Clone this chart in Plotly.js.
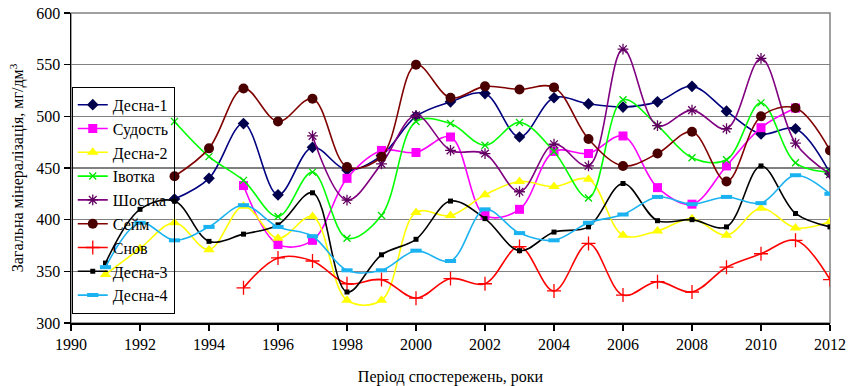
<!DOCTYPE html>
<html>
<head>
<meta charset="utf-8">
<script src="https://cdn.plot.ly/plotly-3.0.1.min.js"></script>
<style>html,body{margin:0;padding:0;background:#fff;}#chart{width:854px;height:386px;}</style>
</head>
<body>
<div id="chart"></div>
<script>
const years = [1991,1992,1993,1994,1995,1996,1997,1998,1999,2000,2001,2002,2003,2004,2005,2006,2007,2008,2009,2010,2011,2012];
const desna1  = [null,null,420,440,493,424,470,448,462,500,514,522,480,518,512,509,514,529,505,483,488,445];
const sudost  = [null,null,null,null,433,376,380,440,467,465,480,404,410,466,464,481,431,415,452,489,508,null];
const desna2  = [347,372,397,371,413,382,403,322,322,407,404,424,437,432,439,385,389,401,385,411,392,398];
const ivotka  = [null,null,495,461,438,403,446,382,404,495,493,472,494,466,421,516,491,460,458,513,455,446];
const shostka = [null,null,null,null,null,null,481,419,454,501,467,464,427,473,452,565,491,506,488,556,474,444];
const seim    = [null,null,442,469,527,495,517,451,461,550,518,529,526,528,478,452,464,485,437,500,508,467];
const snov    = [null,null,null,null,334,363,360,338,342,324,343,338,374,331,377,327,340,330,354,367,380,342];
const desna3  = [358,410,418,379,386,395,426,330,366,381,418,401,370,388,393,435,399,400,393,452,406,393];
const desna4  = [354,397,380,393,414,393,384,351,351,370,360,410,387,380,397,405,422,415,422,416,443,425];

const names = ['Десна-1','Судость','Десна-2','Івотка','Шостка','Сейм','Снов','Десна-3','Десна-4'];

function tr(name, y, lineColor, sym, mSize, mColor, mLineW){
  return {
    type:'scatter', mode:'lines+markers', name:name, x:years, y:y,
    line:{color:lineColor, width:1.6, shape:'spline', smoothing:1},
    marker:{symbol:sym, size:mSize, color:mColor, line:{color:mColor, width:mLineW}},
    connectgaps:false
  };
}
const data = [
  tr(names[0], desna1, '#000080', 'diamond', 9, '#00004d', 0),
  tr(names[1], sudost, '#ff00ff', 'square', 9, '#ff00ff', 0),
  tr(names[2], desna2, '#ffff00', 'triangle-up', 10, '#ffff00', 0),
  tr(names[3], ivotka, '#00ff00', 'x-thin-open', 7, '#00e000', 1.3),
  tr(names[4], shostka, '#800080', 'asterisk-open', 9, '#600060', 1.3),
  tr(names[5], seim, '#800000', 'circle', 10, '#4a0000', 0),
  tr(names[6], snov, '#ff0000', 'cross-thin-open', 10, '#ff0000', 1.3),
  tr(names[7], desna3, '#000000', 'square', 5, '#000000', 0),
  tr(names[8], desna4, '#1ab2f0', 'line-ew-open', 8, '#1ab2f0', 4)
];

const serif = "'Liberation Serif', 'Times New Roman', serif";
const layout = {
  width:854, height:386,
  margin:{l:71, r:24, t:13, b:63},
  paper_bgcolor:'#ffffff', plot_bgcolor:'#ffffff',
  font:{family:serif, size:16, color:'#000'},
  showlegend:true,
  legend:{x:0.001, y:0.762, xanchor:'left', yanchor:'top', bgcolor:'rgba(255,255,255,0)', bordercolor:'#000', borderwidth:1, font:{family:serif, size:16, color:'#000'}, tracegroupgap:0},
  xaxis:{range:[1990,2012], dtick:2, tick0:1990, showgrid:false, zeroline:false,
    showline:true, linecolor:'#000', linewidth:1.5, ticks:'outside', ticklen:6, tickcolor:'#000', tickwidth:1.5,
    tickfont:{family:serif, size:16, color:'#000'},
    title:{text:'Період спостережень, роки', font:{family:serif, size:16, color:'#000'}, standoff:21}},
  yaxis:{range:[300,600], dtick:50, tick0:300, showgrid:true, gridcolor:'#808080', gridwidth:1.5, zeroline:false,
    showline:true, linecolor:'#000', linewidth:1.5, ticks:'outside', ticklen:6, tickcolor:'#000', tickwidth:1.5,
    tickfont:{family:serif, size:16, color:'#000'},
    title:{text:'Загальна мінералізація, мг/дм<sup>3</sup>', font:{family:serif, size:16, color:'#000'}, standoff:8}},
  shapes:[{type:'rect', xref:'paper', yref:'paper', x0:0, x1:1, y0:0, y1:1, line:{color:'#808080', width:1.5}, layer:'below'}]
};
Plotly.newPlot('chart', data, layout, {displayModeBar:false, staticPlot:true});
</script>
</body>
</html>
